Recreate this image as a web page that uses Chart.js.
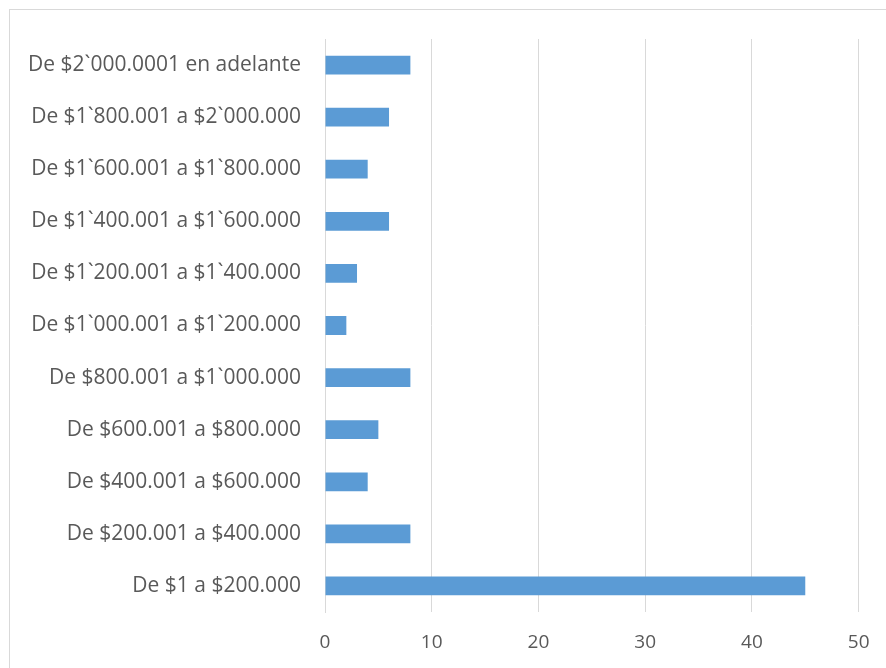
<!DOCTYPE html>
<html>
<head>
<meta charset="utf-8">
<script src="https://cdn.jsdelivr.net/npm/chart.js@4/dist/chart.umd.min.js"></script>
<style>
  html, body { margin: 0; padding: 0; background: #fff; overflow: hidden; }
  #wrap { position: relative; width: 886px; height: 668px; }
  #frame { position: absolute; left: 9px; top: 9px; width: 900px; height: 700px; border: 1.5px solid #d9d9d9; }
  canvas { position: absolute; left: 0; top: 0; }
</style>
</head>
<body>
<div id="wrap">
  <div id="frame"></div>
  <canvas id="rangos" width="886" height="668"></canvas>
</div>
<script>
// rangos, de arriba hacia abajo
var rangos = [
    'De $2`000.0001 en adelante',
    'De $1`800.001 a $2`000.000',
    'De $1`600.001 a $1`800.000',
    'De $1`400.001 a $1`600.000',
    'De $1`200.001 a $1`400.000',
    'De $1`000.001 a $1`200.000',
    'De $800.001 a $1`000.000',
    'De $600.001 a $800.000',
    'De $400.001 a $600.000',
    'De $200.001 a $400.000',
    'De $1 a $200.000'
];
var cantidades = [8, 6, 4, 6, 3, 2, 8, 5, 4, 8, 45];
var ejeX = [0, 10, 20, 30, 40, 50];

var ctx = document.getElementById('rangos').getContext('2d');
var chart = new Chart(ctx, {
    type: 'bar',
    data: {
        labels: rangos,
        datasets: [{
            data: cantidades,
            backgroundColor: '#5b9bd5',
            categoryPercentage: 1,
            barPercentage: 0.36
        }]
    },
    options: {
        indexAxis: 'y',
        responsive: false,
        animation: false,
        // el padding derecho lo pone el eje x (media etiqueta + padding de ticks)
        layout: { padding: { top: 39, right: 0, left: 0, bottom: 0 } },
        plugins: { legend: { display: false }, tooltip: { enabled: false } },
        scales: {
            x: {
                min: ejeX[0],
                max: ejeX[ejeX.length - 1],
                afterBuildTicks: function (s) { s.ticks = ejeX.map(function (v) { return { value: v }; }); },
                afterFit: function (s) { s.height = 56; },
                grid: { color: '#d9d9d9', lineWidth: 1, drawTicks: false },
                border: { display: false },
                ticks: { padding: 16.5, color: '#595959', font: { family: 'Open Sans', size: 19, lineHeight: 1.5 } }
            },
            y: {
                afterFit: function (s) { s.width = 325; },
                grid: { display: false, drawTicks: false },
                border: { display: true, color: '#d9d9d9', width: 1 },
                ticks: { padding: 24, color: '#595959', font: { family: 'Open Sans', size: 21 } }
            }
        }
    }
});
</script>
</body>
</html>
